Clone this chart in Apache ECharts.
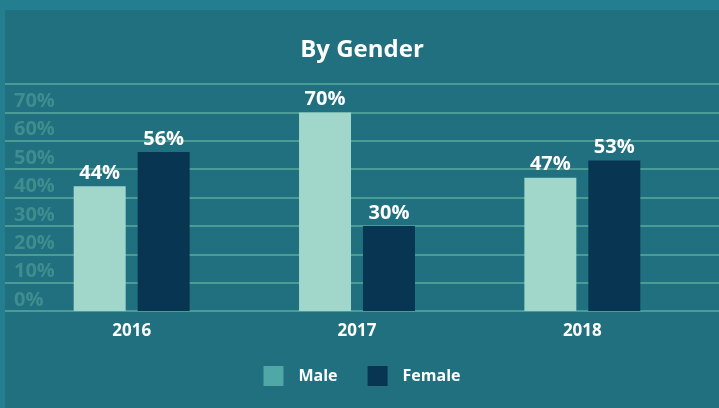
<!DOCTYPE html>
<html>
<head>
<meta charset="utf-8">
<script src="https://cdn.jsdelivr.net/npm/echarts@6/dist/echarts.min.js"></script>
<style>
  html, body { margin: 0; padding: 0; background: #237f8f; }
  #main { position: absolute; left: 5px; top: 10px; width: 714px; height: 398px; }
</style>
</head>
<body>
<div id="main"></div>
<script>
var years = ['2016', '2017', '2018']
var maleValues = [44, 70, 47]
var femaleValues = [56, 30, 53]
var yTicks = [0, 10, 20, 30, 40, 50, 60, 70, 80]

var font = 'Open Sans'
var chart = echarts.init(document.getElementById('main'))

var option = {
  backgroundColor: '#20707f',
  animation: false,
  textStyle: { fontFamily: font },
  title: {
    text: 'By Gender',
    left: 'center',
    top: 23,
    textStyle: { color: '#fff', fontSize: 24, fontWeight: 'bold', fontFamily: font }
  },
  legend: {
    left: 'center',
    top: 351,
    itemWidth: 20,
    itemHeight: 20,
    itemGap: 30,
    icon: 'rect',
    textStyle: { color: '#fff', fontSize: 16, fontWeight: 'bold', padding: [0, 0, 0, 10] },
    data: [
      { name: 'Male', itemStyle: { color: '#4fa8a5' } },
      { name: 'Female', itemStyle: { color: '#083652' } }
    ]
  },
  grid: [
    { left: 0, right: 0, top: 74, bottom: 97 },
    { left: 14, right: 24, top: 74, bottom: 97 }
  ],
  xAxis: [
    { type: 'category', gridIndex: 0, data: years, show: false },
    {
      type: 'category',
      gridIndex: 1,
      data: years,
      axisLine: { show: false },
      axisTick: { show: false },
      axisLabel: { color: '#fff', fontSize: 17, fontWeight: 'bold', margin: 12 }
    }
  ],
  yAxis: [
    {
      type: 'value',
      gridIndex: 0,
      min: yTicks[0],
      max: yTicks[yTicks.length - 1],
      interval: 10,
      axisLine: { show: false },
      axisTick: { show: false },
      splitLine: { lineStyle: { color: '#4b9b97', width: 2 } },
      axisLabel: {
        inside: true,
        margin: 9,
        color: '#3f8d8e',
        fontSize: 20,
        fontWeight: 'bold',
        verticalAlign: 'bottom',
        padding: [0, 0, 1, 0],
        formatter: function (v) { return v >= 80 ? '' : v + '%' }
      }
    },
    {
      type: 'value',
      gridIndex: 1,
      min: yTicks[0],
      max: yTicks[yTicks.length - 1],
      interval: 10,
      show: false,
      splitLine: { show: false }
    }
  ],
  series: [
    {
      name: 'Male',
      type: 'bar',
      xAxisIndex: 1,
      yAxisIndex: 1,
      data: maleValues,
      barWidth: 52,
      barGap: '23%',
      itemStyle: { color: '#a1d6cb' },
      label: {
        show: true,
        position: 'top',
        distance: 3,
        color: '#fff',
        fontSize: 20,
        fontWeight: 'bold',
        formatter: '{c}%'
      }
    },
    {
      name: 'Female',
      type: 'bar',
      xAxisIndex: 1,
      yAxisIndex: 1,
      data: femaleValues,
      barWidth: 52,
      barGap: '23%',
      itemStyle: { color: '#083652' },
      label: {
        show: true,
        position: 'top',
        distance: 3,
        color: '#fff',
        fontSize: 20,
        fontWeight: 'bold',
        formatter: '{c}%'
      }
    }
  ]
}

chart.setOption(option)
</script>
</body>
</html>
